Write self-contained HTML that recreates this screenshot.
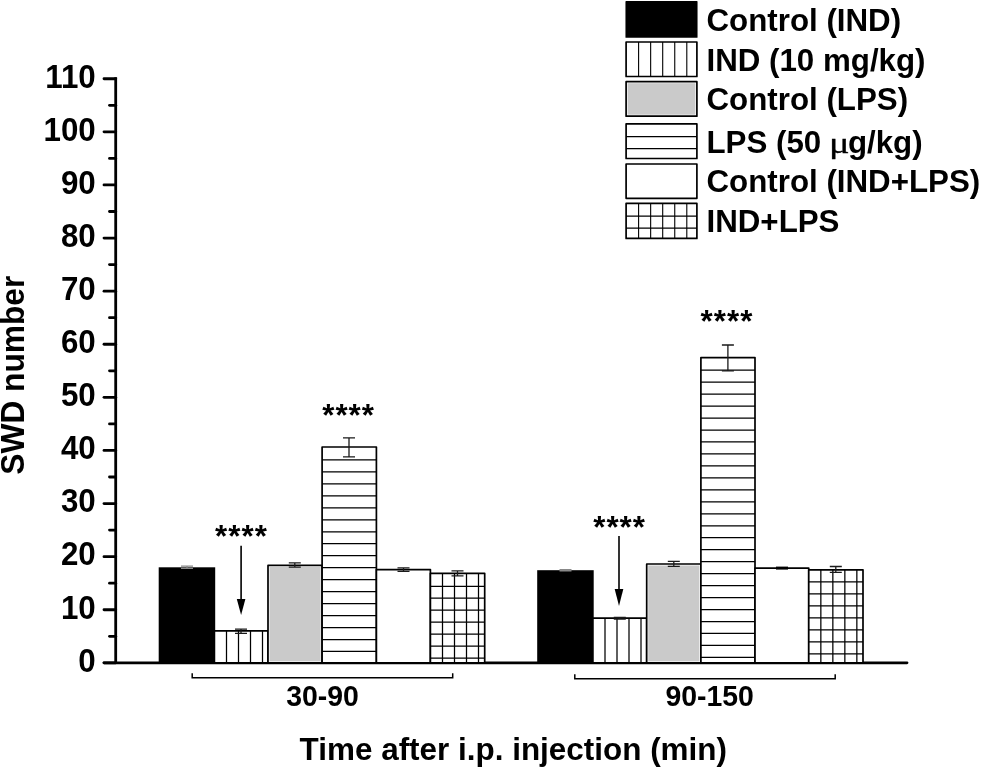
<!DOCTYPE html>
<html><head><meta charset="utf-8"><title>SWD number</title>
<style>
html,body{margin:0;padding:0;background:#fff;}
body{width:981px;height:768px;overflow:hidden;}
svg{display:block;}
text{font-family:"Liberation Sans",Arial,sans-serif;font-weight:bold;fill:#000;}
</style></head><body>
<svg width="981" height="768" viewBox="0 0 981 768">
<rect width="981" height="768" fill="#fff"/>

<g stroke="#000" stroke-width="2.8" stroke-linecap="round" fill="none">
<path d="M115.7 77.35 V662.85" stroke-linecap="butt"/>
<path d="M104 662.85 H907"/>
<path d="M104 662.85 H115.7"/>
<path d="M109.5 636.30 H115.7"/>
<path d="M104 609.75 H115.7"/>
<path d="M109.5 583.20 H115.7"/>
<path d="M104 556.65 H115.7"/>
<path d="M109.5 530.10 H115.7"/>
<path d="M104 503.55 H115.7"/>
<path d="M109.5 477.00 H115.7"/>
<path d="M104 450.45 H115.7"/>
<path d="M109.5 423.90 H115.7"/>
<path d="M104 397.35 H115.7"/>
<path d="M109.5 370.80 H115.7"/>
<path d="M104 344.25 H115.7"/>
<path d="M109.5 317.70 H115.7"/>
<path d="M104 291.15 H115.7"/>
<path d="M109.5 264.60 H115.7"/>
<path d="M104 238.05 H115.7"/>
<path d="M109.5 211.50 H115.7"/>
<path d="M104 184.95 H115.7"/>
<path d="M109.5 158.40 H115.7"/>
<path d="M104 131.85 H115.7"/>
<path d="M109.5 105.30 H115.7"/>
<path d="M104 78.75 H115.7"/>
</g>
<text transform="translate(95.7 671.65) scale(1 1.042)" font-size="31.3" text-anchor="end">0</text>
<text transform="translate(95.7 618.55) scale(1 1.042)" font-size="31.3" text-anchor="end">10</text>
<text transform="translate(95.7 565.45) scale(1 1.042)" font-size="31.3" text-anchor="end">20</text>
<text transform="translate(95.7 512.35) scale(1 1.042)" font-size="31.3" text-anchor="end">30</text>
<text transform="translate(95.7 459.25) scale(1 1.042)" font-size="31.3" text-anchor="end">40</text>
<text transform="translate(95.7 406.15) scale(1 1.042)" font-size="31.3" text-anchor="end">50</text>
<text transform="translate(95.7 353.05) scale(1 1.042)" font-size="31.3" text-anchor="end">60</text>
<text transform="translate(95.7 299.95) scale(1 1.042)" font-size="31.3" text-anchor="end">70</text>
<text transform="translate(95.7 246.85) scale(1 1.042)" font-size="31.3" text-anchor="end">80</text>
<text transform="translate(95.7 193.75) scale(1 1.042)" font-size="31.3" text-anchor="end">90</text>
<text transform="translate(95.7 140.65) scale(1 1.042)" font-size="31.3" text-anchor="end">100</text>
<text transform="translate(95.7 87.55) scale(1 1.042)" font-size="31.3" text-anchor="end">110</text>
<rect x="158.70" y="567.30" width="56.50" height="95.55" fill="#000"/>
<rect x="214.40" y="630.80" width="53.60" height="32.05" fill="#fff" stroke="#000" stroke-width="1.7" stroke-linejoin="round"/>
<path d="M226.50 630.80 V662.85 M238.50 630.80 V662.85 M250.50 630.80 V662.85 M262.50 630.80 V662.85" stroke="#000" stroke-width="1.25" fill="none"/>
<rect x="268.00" y="565.40" width="54.10" height="97.45" fill="#fff" stroke="#000" stroke-width="1.7" stroke-linejoin="round"/>
<rect x="269.50" y="566.90" width="51.10" height="94.45" fill="#cacaca"/>
<rect x="322.10" y="447.00" width="54.30" height="215.85" fill="#fff" stroke="#000" stroke-width="1.7" stroke-linejoin="round"/>
<path d="M322.10 459.95 H376.40 M322.10 471.92 H376.40 M322.10 483.89 H376.40 M322.10 495.86 H376.40 M322.10 507.83 H376.40 M322.10 519.80 H376.40 M322.10 531.77 H376.40 M322.10 543.74 H376.40 M322.10 555.71 H376.40 M322.10 567.68 H376.40 M322.10 579.65 H376.40 M322.10 591.62 H376.40 M322.10 603.59 H376.40 M322.10 615.56 H376.40 M322.10 627.53 H376.40 M322.10 639.50 H376.40 M322.10 651.47 H376.40" stroke="#000" stroke-width="1.25" fill="none"/>
<rect x="376.40" y="569.60" width="54.00" height="93.25" fill="#fff" stroke="#000" stroke-width="1.7" stroke-linejoin="round"/>
<rect x="430.40" y="573.30" width="54.30" height="89.55" fill="#fff" stroke="#000" stroke-width="1.7" stroke-linejoin="round"/>
<path d="M442.50 573.30 V662.85 M454.50 573.30 V662.85 M466.50 573.30 V662.85 M478.50 573.30 V662.85 M430.40 586.25 H484.70 M430.40 598.22 H484.70 M430.40 610.19 H484.70 M430.40 622.16 H484.70 M430.40 634.13 H484.70 M430.40 646.10 H484.70 M430.40 658.07 H484.70" stroke="#000" stroke-width="1.25" fill="none"/>
<rect x="537.20" y="570.20" width="56.50" height="92.65" fill="#000"/>
<rect x="592.90" y="618.10" width="53.80" height="44.75" fill="#fff" stroke="#000" stroke-width="1.7" stroke-linejoin="round"/>
<path d="M605.00 618.10 V662.85 M617.00 618.10 V662.85 M629.00 618.10 V662.85 M641.00 618.10 V662.85" stroke="#000" stroke-width="1.25" fill="none"/>
<rect x="646.70" y="564.00" width="54.20" height="98.85" fill="#fff" stroke="#000" stroke-width="1.7" stroke-linejoin="round"/>
<rect x="648.20" y="565.50" width="51.20" height="95.85" fill="#cacaca"/>
<rect x="700.90" y="357.60" width="54.10" height="305.25" fill="#fff" stroke="#000" stroke-width="1.7" stroke-linejoin="round"/>
<path d="M700.90 370.15 H755.00 M700.90 382.12 H755.00 M700.90 394.09 H755.00 M700.90 406.06 H755.00 M700.90 418.03 H755.00 M700.90 430.00 H755.00 M700.90 441.97 H755.00 M700.90 453.94 H755.00 M700.90 465.91 H755.00 M700.90 477.88 H755.00 M700.90 489.85 H755.00 M700.90 501.82 H755.00 M700.90 513.79 H755.00 M700.90 525.76 H755.00 M700.90 537.73 H755.00 M700.90 549.70 H755.00 M700.90 561.67 H755.00 M700.90 573.64 H755.00 M700.90 585.61 H755.00 M700.90 597.58 H755.00 M700.90 609.55 H755.00 M700.90 621.52 H755.00 M700.90 633.49 H755.00 M700.90 645.46 H755.00 M700.90 657.43 H755.00" stroke="#000" stroke-width="1.25" fill="none"/>
<rect x="755.00" y="568.10" width="53.75" height="94.75" fill="#fff" stroke="#000" stroke-width="1.7" stroke-linejoin="round"/>
<rect x="808.75" y="569.80" width="54.25" height="93.05" fill="#fff" stroke="#000" stroke-width="1.7" stroke-linejoin="round"/>
<path d="M820.85 569.80 V662.85 M832.85 569.80 V662.85 M844.85 569.80 V662.85 M856.85 569.80 V662.85 M808.75 581.95 H863.00 M808.75 593.92 H863.00 M808.75 605.89 H863.00 M808.75 617.86 H863.00 M808.75 629.83 H863.00 M808.75 641.80 H863.00 M808.75 653.77 H863.00" stroke="#000" stroke-width="1.25" fill="none"/>
<path d="M181.00 566.20 H193.00 M181.00 568.40 H193.00 M187.00 566.20 V568.40" stroke="#888" stroke-width="1.3" fill="none"/>
<path d="M235.00 629.10 H247.00 M235.00 633.40 H247.00 M241.00 629.10 V633.40" stroke="#1a1a1a" stroke-width="1.3" fill="none"/>
<path d="M288.80 562.80 H300.80 M288.80 567.10 H300.80 M294.80 562.80 V567.10" stroke="#1a1a1a" stroke-width="1.3" fill="none"/>
<path d="M343.00 437.90 H355.00 M343.00 456.90 H355.00 M349.00 437.90 V456.90" stroke="#1a1a1a" stroke-width="1.3" fill="none"/>
<path d="M397.50 567.90 H409.50 M397.50 571.30 H409.50 M403.50 567.90 V571.30" stroke="#1a1a1a" stroke-width="1.3" fill="none"/>
<path d="M451.50 570.80 H463.50 M451.50 575.80 H463.50 M457.50 570.80 V575.80" stroke="#1a1a1a" stroke-width="1.3" fill="none"/>
<path d="M559.50 569.60 H571.50 M559.50 570.80 H571.50 M565.50 569.60 V570.80" stroke="#888" stroke-width="1.3" fill="none"/>
<path d="M613.80 617.30 H625.80 M613.80 619.00 H625.80 M619.80 617.30 V619.00" stroke="#1a1a1a" stroke-width="1.3" fill="none"/>
<path d="M667.80 561.30 H679.80 M667.80 566.30 H679.80 M673.80 561.30 V566.30" stroke="#1a1a1a" stroke-width="1.3" fill="none"/>
<path d="M721.90 345.00 H733.90 M721.90 370.90 H733.90 M727.90 345.00 V370.90" stroke="#1a1a1a" stroke-width="1.3" fill="none"/>
<path d="M776 568.1 H788" stroke="#000" stroke-width="3" fill="none"/>
<path d="M829.80 566.50 H841.80 M829.80 572.30 H841.80 M835.80 566.50 V572.30" stroke="#1a1a1a" stroke-width="1.3" fill="none"/>
<path d="M241.1 545.7 V601.1" stroke="#000" stroke-width="1.6" fill="none"/>
<path d="M236.79999999999998 599.1 L245.4 599.1 L241.1 615 Z" fill="#000"/>
<path d="M619 535.9 V591.0" stroke="#000" stroke-width="1.6" fill="none"/>
<path d="M614.7 589.0 L623.3 589.0 L619 606 Z" fill="#000"/>
<text transform="translate(215.05 546.7) scale(1 1.02)" font-size="31.3" text-anchor="start" letter-spacing="1.05">****</text>
<text transform="translate(322.15 425.8) scale(1 1.02)" font-size="31.3" text-anchor="start" letter-spacing="1.05">****</text>
<text transform="translate(593.15 538.0) scale(1 1.02)" font-size="31.3" text-anchor="start" letter-spacing="1.05">****</text>
<text transform="translate(700.6 331.7) scale(1 1.02)" font-size="31.3" text-anchor="start" letter-spacing="1.05">****</text>
<path d="M192.2 673.3 V677.8 H452.7 V673.3" stroke="#000" stroke-width="1.5" fill="none"/>
<path d="M574.8 674.3 V678.8 H835.2 V674.3" stroke="#000" stroke-width="1.5" fill="none"/>
<text transform="translate(322.5 706.3) scale(1 1.042)" font-size="28.4" text-anchor="middle">30-90</text>
<text transform="translate(709.6 706.3) scale(1 1.042)" font-size="28.4" text-anchor="middle">90-150</text>
<text transform="translate(513.3 759.6) scale(1 1.0)" font-size="31.45" text-anchor="middle">Time after i.p. injection (min)</text>
<text transform="translate(24.2 375.2) rotate(-90) scale(1 1.02)" font-size="31.7" text-anchor="middle">SWD number</text>
<rect x="625.45" y="1.05" width="72.10" height="36.80" rx="0.6" fill="#000"/>
<text transform="translate(706.5 30.75) scale(1 1.022)" font-size="31.3" text-anchor="start">Control (IND)</text>
<rect x="626.1" y="42.0" width="70.80" height="34.50" fill="#fff" stroke="#000" stroke-width="1.7" stroke-linejoin="round"/>
<path d="M638.60 42.0 V76.5 M650.65 42.0 V76.5 M662.70 42.0 V76.5 M674.75 42.0 V76.5 M686.80 42.0 V76.5" stroke="#000" stroke-width="1.1" fill="none"/>
<text transform="translate(706.5 70.55) scale(1 1.022)" font-size="31.3" text-anchor="start">IND (10 mg/kg)</text>
<rect x="626.1" y="81.7" width="70.80" height="34.50" fill="#fff" stroke="#000" stroke-width="1.7" stroke-linejoin="round"/>
<rect x="627.6" y="83.2" width="67.80" height="31.50" fill="#cacaca"/>
<text transform="translate(706.5 110.25) scale(1 1.022)" font-size="31.3" text-anchor="start">Control (LPS)</text>
<rect x="626.1" y="123.9" width="70.80" height="34.60" fill="#fff" stroke="#000" stroke-width="1.7" stroke-linejoin="round"/>
<path d="M626.1 136.60 H696.9 M626.1 148.60 H696.9" stroke="#000" stroke-width="1.1" fill="none"/>
<text transform="translate(706.5 152.5) scale(1 1.022)" font-size="31.3" text-anchor="start">LPS (50</text>
<text transform="translate(829.1 152.5) scale(1.22 0.96)" font-size="31.4" style="font-family:'Liberation Serif',serif;font-weight:normal" stroke="#000" stroke-width="0.3">μ</text>
<text transform="translate(847.9 152.5) scale(1 1.022)" font-size="31.3" text-anchor="start">g/kg)</text>
<rect x="626.1" y="164.0" width="70.80" height="34.30" fill="#fff" stroke="#000" stroke-width="1.7" stroke-linejoin="round"/>
<text transform="translate(706.5 192.45) scale(1 1.022)" font-size="31.3" text-anchor="start">Control (IND+LPS)</text>
<rect x="626.1" y="203.4" width="70.80" height="35.00" fill="#fff" stroke="#000" stroke-width="1.7" stroke-linejoin="round"/>
<path d="M638.60 203.4 V238.4 M650.65 203.4 V238.4 M662.70 203.4 V238.4 M674.75 203.4 V238.4 M686.80 203.4 V238.4 M626.1 216.10 H696.9 M626.1 228.10 H696.9" stroke="#000" stroke-width="1.1" fill="none"/>
<text transform="translate(706.5 232.2) scale(1 1.022)" font-size="31.3" text-anchor="start">IND+LPS</text>
</svg></body></html>
